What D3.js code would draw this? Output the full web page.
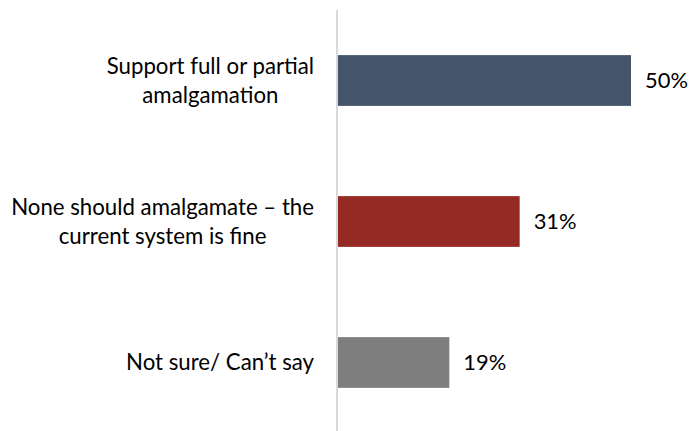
<!DOCTYPE html>
<html>
<head>
<meta charset="utf-8">
<script src="https://cdn.jsdelivr.net/npm/d3@7"></script>
<style>
  html, body { margin: 0; padding: 0; background: #ffffff; }
  svg { display: block; }
</style>
</head>
<body>
<svg id="chart" width="692" height="431"></svg>
<script>
// ---- data ----
const categories = [
  ["Support full or partial", "amalgamation"],
  ["None should amalgamate \u2013 the", "current system is fine"],
  ["Not sure/ Can\u2019t say"]
];
const values = [50, 31, 19];
const valueLabels = ["50%", "31%", "19%"];
const colors = ["#44546a", "#952923", "#7f7f7f"];

// ---- layout ----
const W = 692, H = 431;
const axisX = 337;
const fontFamily = "Lato, 'Open Sans', 'Liberation Sans', sans-serif";

const svg = d3.select("#chart");

function measure(str, size) {
  const t = svg.append("text").attr("font-family", fontFamily).attr("font-size", size).text(str);
  const w = t.node().getComputedTextLength();
  t.remove();
  return w;
}

// fit font sizes to the reference text widths
const fontSize = 20 * 303 / measure("None should amalgamate \u2013 the", 20);
const valSize = 20 * 43 / measure("50%", 20);

const x = d3.scaleLinear().domain([0, 50]).range([axisX + 1, 631]);
const y = d3.scaleBand().domain(d3.range(values.length)).range([10, 433]).paddingInner(0.64).paddingOuter(0.32);

// axis line
svg.append("line")
  .attr("x1", axisX).attr("x2", axisX)
  .attr("y1", 10).attr("y2", H)
  .attr("stroke", "#d9d9d9").attr("stroke-width", 2);

// bars
svg.selectAll("rect.bar").data(values).enter().append("rect")
  .attr("class", "bar")
  .attr("x", x(0))
  .attr("y", (d, i) => y(i))
  .attr("width", d => x(d) - x(0))
  .attr("height", y.bandwidth())
  .attr("fill", (d, i) => colors[i]);

// value labels
svg.selectAll("text.val").data(values).enter().append("text")
  .attr("class", "val")
  .attr("x", d => x(d) + 14)
  .attr("y", (d, i) => y(i) + y.bandwidth() / 2)
  .attr("dy", "0.35em")
  .attr("font-family", fontFamily)
  .attr("font-size", valSize)
  .attr("fill", "#000")
  .text((d, i) => valueLabels[i]);

// category labels (multi-line, centered block, right edge at 314)
const lineH = 29;
const labelRight = 314;
categories.forEach((lines, i) => {
  const g = svg.append("text")
    .attr("font-family", fontFamily)
    .attr("font-size", fontSize)
    .attr("fill", "#000")
    .attr("text-anchor", "middle");
  const maxW = d3.max(lines, l => measure(l, fontSize));
  const cx = labelRight - maxW / 2;
  const cy = y(i) + y.bandwidth() / 2;
  const n = lines.length;
  lines.forEach((l, k) => {
    g.append("tspan")
      .attr("x", cx)
      .attr("y", cy + (k - (n - 1) / 2) * lineH)
      .attr("dy", "0.35em")
      .text(l);
  });
});
</script>
</body>
</html>
